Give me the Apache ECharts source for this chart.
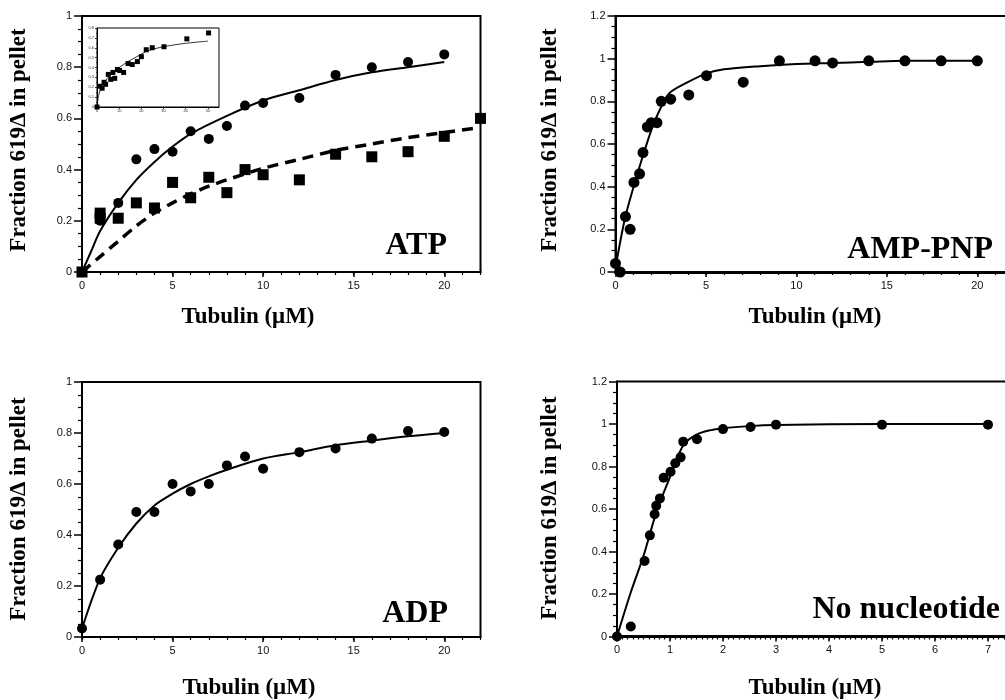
<!DOCTYPE html>
<html>
<head>
<meta charset="utf-8">
<script src="https://cdn.jsdelivr.net/npm/echarts@6/dist/echarts.min.js"></script>
<style>
  html, body { margin: 0; padding: 0; background: #fff; }
  #main { width: 1005px; height: 700px; }
</style>
</head>
<body>
<div id="main"></div>
<script>
// ATP panel (circles = solid fit, squares = dashed fit)
var atpCircleX = [0, 1, 2, 3, 4, 5, 6, 7, 8, 9, 10, 12, 14, 16, 18, 20];
var atpCircleY = [0, 0.20, 0.27, 0.44, 0.48, 0.47, 0.55, 0.52, 0.57, 0.65, 0.66, 0.68, 0.77, 0.80, 0.82, 0.85];
var atpSquareX = [0, 1, 1, 2, 3, 4, 5, 6, 7, 8, 9, 10, 12, 14, 16, 18, 20, 22];
var atpSquareY = [0, 0.23, 0.21, 0.21, 0.27, 0.25, 0.35, 0.29, 0.37, 0.31, 0.40, 0.38, 0.36, 0.46, 0.45, 0.47, 0.53, 0.60];
var atpFitX = [0, 0.5, 1, 2, 3, 4, 5, 6, 8, 10, 12, 14, 16, 18, 20];
var atpFitY = [0, 0.08, 0.16, 0.27, 0.36, 0.43, 0.49, 0.54, 0.61, 0.67, 0.71, 0.75, 0.78, 0.80, 0.82];
var atpDashX = [0, 1, 2, 3, 4, 5, 6, 7, 8, 10, 12, 14, 16, 18, 20, 22];
var atpDashY = [0, 0.06, 0.12, 0.18, 0.23, 0.27, 0.305, 0.335, 0.36, 0.405, 0.44, 0.475, 0.50, 0.525, 0.545, 0.565];

// inset of ATP panel
var insetX = [0, 1.2, 2.3, 3.2, 3.9, 5.1, 6.2, 7.2, 8, 9.2, 10.2, 12, 14, 15.9, 18.2, 20, 22.2, 24.9, 30.2, 40.5, 50.3];
var insetY = [0, 0.21, 0.19, 0.25, 0.23, 0.33, 0.28, 0.35, 0.29, 0.38, 0.37, 0.35, 0.44, 0.43, 0.46, 0.51, 0.58, 0.60, 0.61, 0.69, 0.75];
var insetFitX = [0, 0.5, 1, 2, 3, 5, 7, 10, 14, 18, 22, 26, 30, 35, 40, 45, 50];
var insetFitY = [0, 0.09, 0.14, 0.2, 0.24, 0.3, 0.34, 0.4, 0.46, 0.51, 0.56, 0.59, 0.61, 0.63, 0.645, 0.657, 0.667];

// AMP-PNP panel
var ampX = [0, 0.26, 0.55, 0.81, 1.02, 1.33, 1.52, 1.76, 1.98, 2.29, 2.53, 3.05, 4.05, 5.03, 7.06, 9.06, 11.03, 12, 14, 16, 18, 20];
var ampY = [0.04, 0, 0.26, 0.2, 0.42, 0.46, 0.56, 0.68, 0.7, 0.7, 0.8, 0.81, 0.83, 0.92, 0.89, 0.99, 0.99, 0.98, 0.99, 0.99, 0.99, 0.99];
var ampFitX = [0, 0.5, 1, 1.5, 2, 2.5, 3, 4, 5, 6, 8, 10, 12, 14, 16, 18, 20];
var ampFitY = [0.02, 0.243, 0.40, 0.54, 0.67, 0.77, 0.84, 0.89, 0.93, 0.95, 0.965, 0.975, 0.98, 0.985, 0.99, 0.99, 0.99];

// ADP panel
var adpX = [0, 1, 2, 3, 4, 5, 6, 7, 8, 9, 10, 12, 14, 16, 18, 20];
var adpY = [0.033, 0.225, 0.363, 0.49, 0.49, 0.6, 0.571, 0.6, 0.673, 0.708, 0.66, 0.725, 0.739, 0.778, 0.808, 0.804];
var adpFitX = [0, 1, 2, 3, 4, 5, 6, 7, 8, 10, 12, 14, 16, 18, 20];
var adpFitY = [0.033, 0.23, 0.35, 0.445, 0.516, 0.562, 0.6, 0.63, 0.656, 0.70, 0.725, 0.752, 0.77, 0.787, 0.80];

// No nucleotide panel
var noneX = [0, 0.26, 0.52, 0.62, 0.71, 0.74, 0.81, 0.88, 1.01, 1.1, 1.2, 1.25, 1.51, 2, 2.52, 3, 5, 7];
var noneY = [0, 0.047, 0.355, 0.476, 0.575, 0.615, 0.65, 0.747, 0.775, 0.815, 0.843, 0.917, 0.928, 0.976, 0.986, 0.997, 0.997, 0.997];
var noneFitX = [0, 0.25, 0.5, 0.75, 1, 1.25, 1.5, 1.75, 2, 2.5, 3, 5, 7];
var noneFitY = [0, 0.2, 0.38, 0.59, 0.75, 0.9, 0.95, 0.97, 0.98, 0.99, 0.995, 1, 1];

var panelLabels = ['ATP', 'AMP-PNP', 'ADP', 'No nucleotide'];
var yTitle = 'Fraction 619\u0394 in pellet';
var xTitle = 'Tubulin (\u03bcM)';

function pairs(xs, ys) {
  return xs.map(function (x, i) { return [x, ys[i]]; });
}

var sans = '"Liberation Sans", Arial, sans-serif';
var serif = '"Liberation Serif", "Times New Roman", serif';

function mainX(grid, max, interval, lw) {
  return {
    type: 'value', gridIndex: grid, min: 0, max: max, interval: interval, position: 'bottom',
    splitLine: { show: false },
    axisLine: { lineStyle: { color: '#000', width: lw } },
    axisTick: { length: 5, lineStyle: { color: '#000', width: 1.5 } },
    axisLabel: { color: '#111', fontSize: 11, fontFamily: sans, margin: 8, showMaxLabel: false }
  };
}
// second x axis just for the small ticks
function minorX(grid, max, interval) {
  return {
    type: 'value', gridIndex: grid, min: 0, max: max, interval: interval, position: 'bottom',
    splitLine: { show: false },
    axisLine: { show: false },
    axisTick: { length: 3, lineStyle: { color: '#000', width: 1.2 } },
    axisLabel: { show: false }
  };
}
function mainY(grid, max) {
  return {
    type: 'value', gridIndex: grid, min: 0, max: max, interval: 0.2,
    splitLine: { show: false },
    axisLine: { lineStyle: { color: '#000', width: 2 } },
    axisTick: { length: 8, lineStyle: { color: '#000', width: 1.5 } },
    minorTick: { show: true, splitNumber: 4, length: 4, lineStyle: { color: '#000', width: 1.2 } },
    axisLabel: { color: '#111', fontSize: 11, fontFamily: sans, margin: 10 }
  };
}

function dots(xi, yi, xs, ys, symbol, size) {
  return {
    type: 'scatter', xAxisIndex: xi, yAxisIndex: yi, data: pairs(xs, ys),
    symbol: symbol, symbolSize: size, itemStyle: { color: '#000', opacity: 1 }, z: 4
  };
}
function fit(xi, yi, xs, ys, width, dash) {
  return {
    type: 'line', xAxisIndex: xi, yAxisIndex: yi, data: pairs(xs, ys),
    showSymbol: false, smooth: 0.3,
    lineStyle: { color: '#000', width: width, type: dash || 'solid' }, z: 3
  };
}

var gridBox = { show: true, borderColor: '#000', borderWidth: 2, backgroundColor: 'transparent', containLabel: false, outerBoundsMode: 'none' };

var option = {
  animation: false,
  backgroundColor: '#fff',
  textStyle: { fontFamily: sans },
  grid: [
    Object.assign({ left: 82, top: 16, width: 398.5, height: 256 }, gridBox),
    Object.assign({ left: 615.5, top: 16, width: 398, height: 256 }, gridBox),
    Object.assign({ left: 82, top: 382, width: 398.5, height: 255 }, gridBox),
    Object.assign({ left: 617, top: 381.5, width: 397.5, height: 255 }, gridBox),
    { left: 97, top: 28, width: 122, height: 79, show: true, borderColor: '#000', borderWidth: 1, backgroundColor: '#fff', outerBoundsMode: 'none' }
  ],
  xAxis: [
    mainX(0, 22, 5, 2), minorX(0, 22, 1),
    mainX(1, 22, 5, 3), minorX(1, 22, 1),
    mainX(2, 22, 5, 2), minorX(2, 22, 1),
    mainX(3, 7.5, 1, 3), minorX(3, 7.5, 0.1),
    {
      type: 'value', gridIndex: 4, min: 0, max: 55, interval: 10,
      splitLine: { show: false },
      axisLine: { lineStyle: { color: '#000', width: 1 } },
      axisTick: { length: 2, lineStyle: { color: '#000', width: 0.8 } },
      axisLabel: { color: '#333', fontSize: 4, margin: 2, showMaxLabel: false }
    }
  ],
  yAxis: [
    mainY(0, 1), mainY(1, 1.2), mainY(2, 1), mainY(3, 1.2),
    {
      type: 'value', gridIndex: 4, min: 0, max: 0.8, interval: 0.1,
      splitLine: { show: false },
      axisLine: { lineStyle: { color: '#000', width: 1 } },
      axisTick: { length: 2, lineStyle: { color: '#000', width: 0.8 } },
      minorTick: { show: true, splitNumber: 2, length: 1, lineStyle: { color: '#000', width: 0.6 } },
      axisLabel: { color: '#333', fontSize: 4, margin: 3 }
    }
  ],
  series: [
    fit(0, 0, atpFitX, atpFitY, 2),
    fit(0, 0, atpDashX, atpDashY, 3.5, [11, 7]),
    dots(0, 0, atpCircleX, atpCircleY, 'circle', 10),
    dots(0, 0, atpSquareX, atpSquareY, 'rect', 11),
    fit(8, 4, insetFitX, insetFitY, 0.8),
    dots(8, 4, insetX, insetY, 'rect', 5),
    fit(2, 1, ampFitX, ampFitY, 2),
    dots(2, 1, ampX, ampY, 'circle', 11),
    fit(4, 2, adpFitX, adpFitY, 2),
    dots(4, 2, adpX, adpY, 'circle', 10),
    fit(6, 3, noneFitX, noneFitY, 2),
    dots(6, 3, noneX, noneY, 'circle', 10)
  ],
  graphic: [
    // y titles
    { type: 'text', x: 19, y: 140, rotation: Math.PI / 2, style: { text: yTitle, font: 'bold 23px ' + serif, fill: '#000', align: 'center', verticalAlign: 'middle' } },
    { type: 'text', x: 550, y: 140, rotation: Math.PI / 2, style: { text: yTitle, font: 'bold 23px ' + serif, fill: '#000', align: 'center', verticalAlign: 'middle' } },
    { type: 'text', x: 19, y: 509, rotation: Math.PI / 2, style: { text: yTitle, font: 'bold 23px ' + serif, fill: '#000', align: 'center', verticalAlign: 'middle' } },
    { type: 'text', x: 550, y: 508, rotation: Math.PI / 2, style: { text: yTitle, font: 'bold 23px ' + serif, fill: '#000', align: 'center', verticalAlign: 'middle' } },
    // x titles
    { type: 'text', x: 248, y: 317, style: { text: xTitle, font: 'bold 23px ' + serif, fill: '#000', align: 'center', verticalAlign: 'middle' } },
    { type: 'text', x: 815, y: 317, style: { text: xTitle, font: 'bold 23px ' + serif, fill: '#000', align: 'center', verticalAlign: 'middle' } },
    { type: 'text', x: 249, y: 688, style: { text: xTitle, font: 'bold 23px ' + serif, fill: '#000', align: 'center', verticalAlign: 'middle' } },
    { type: 'text', x: 815, y: 688, style: { text: xTitle, font: 'bold 23px ' + serif, fill: '#000', align: 'center', verticalAlign: 'middle' } },
    // panel labels
    { type: 'text', x: 447, y: 246, z: 10, style: { text: panelLabels[0], font: 'bold 32px ' + serif, fill: '#000', align: 'right', verticalAlign: 'middle' } },
    { type: 'text', x: 993, y: 250, z: 10, style: { text: panelLabels[1], font: 'bold 32px ' + serif, fill: '#000', align: 'right', verticalAlign: 'middle' } },
    { type: 'text', x: 448, y: 614, z: 10, style: { text: panelLabels[2], font: 'bold 32px ' + serif, fill: '#000', align: 'right', verticalAlign: 'middle' } },
    { type: 'text', x: 1000, y: 610, z: 10, style: { text: panelLabels[3], font: 'bold 32px ' + serif, fill: '#000', align: 'right', verticalAlign: 'middle' } }
  ]
};

var chart = echarts.init(document.getElementById('main'));
chart.setOption(option);
</script>
</body>
</html>
